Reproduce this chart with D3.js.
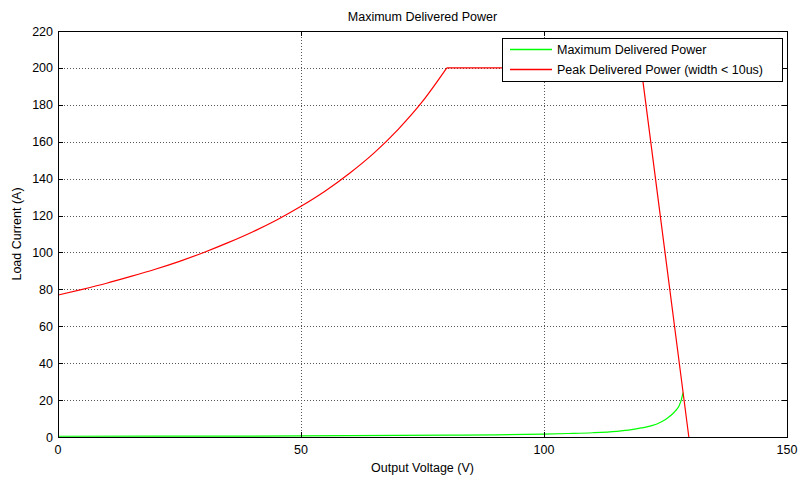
<!DOCTYPE html>
<html>
<head>
<meta charset="utf-8">
<title>Maximum Delivered Power</title>
<script src="https://cdn.jsdelivr.net/npm/d3@7"></script>
<style>
    body { margin: 0; background: #fff; }
    svg { display: block; font-family: Arial, 'Liberation Sans', sans-serif; }
</style>
</head>
<body>
<div id="chart"></div>
<script>
/*global d3: false*/

// Peak delivered power (width < 10us): rising part, flat clamp at 200 A, then steep drop
var peakVoltage = [0, 5, 10, 15, 20, 25, 30, 35, 40, 45, 50, 55, 60, 65, 70, 75, 80, 120, 129.8];
var peakCurrent = [76.9, 80, 83.3, 87, 90.9, 95.2, 100, 105.3, 111.1, 117.6, 125, 133.3, 142.9, 153.8, 166.7, 181.8, 200, 200, 0];

// Maximum delivered power
var maxVoltage = [0, 20, 40, 60, 80, 90, 100, 105, 110, 115, 118, 120, 122, 124, 125, 126, 127, 127.8, 128.3, 128.6];
var maxCurrent = [0.4, 0.45, 0.5, 0.7, 1.0, 1.2, 1.6, 1.9, 2.3, 3.1, 4.0, 4.9, 6.0, 8.0, 9.5, 11.5, 14, 17, 20.5, 24];

var xTicks = [0, 50, 100, 150];
var yTicks = [0, 20, 40, 60, 80, 100, 120, 140, 160, 180, 200, 220];
var seriesNames = ['Maximum Delivered Power', 'Peak Delivered Power (width < 10us)'];
var seriesColors = ['#00ff00', '#ff0000'];

(function() {
    'use strict';
    var width, height, margin, svg, x, y, g, smooth, straight, peak, i, legend, pw, ph, bend;

    width = 799;
    height = 478;
    margin = {left: 58, right: 12, top: 31, bottom: 41};
    pw = width - margin.left - margin.right;
    ph = height - margin.top - margin.bottom;

    svg = d3.select('#chart').append('svg')
        .attr('width', width)
        .attr('height', height);

    x = d3.scaleLinear().domain([0, 150]).range([0, pw]);
    y = d3.scaleLinear().domain([0, 220]).range([ph, 0]);

    g = svg.append('g')
        .attr('transform', 'translate(' + margin.left + ',' + margin.top + ')');

    // Grid lines
    g.selectAll('.vgrid')
        .data(xTicks.slice(1, -1))
        .enter().append('line')
        .attr('x1', function(d) { return x(d) + 0.5; })
        .attr('x2', function(d) { return x(d) + 0.5; })
        .attr('y1', 0)
        .attr('y2', ph)
        .attr('stroke', '#555')
        .attr('stroke-width', 1)
        .attr('stroke-dasharray', '1,2');
    g.selectAll('.hgrid')
        .data(yTicks.slice(1, -1))
        .enter().append('line')
        .attr('x1', 0)
        .attr('x2', pw)
        .attr('y1', function(d) { return Math.round(y(d)) + 0.5; })
        .attr('y2', function(d) { return Math.round(y(d)) + 0.5; })
        .attr('stroke', '#555')
        .attr('stroke-width', 1)
        .attr('stroke-dasharray', '1,2');

    smooth = d3.line()
        .x(function(d) { return x(d[0]); })
        .y(function(d) { return y(d[1]); })
        .curve(d3.curveMonotoneX);
    straight = d3.line()
        .x(function(d) { return x(d[0]); })
        .y(function(d) { return y(d[1]); });

    // Series
    g.append('path')
        .datum(maxVoltage.map(function(v, k) { return [v, maxCurrent[k]]; }))
        .attr('d', smooth)
        .attr('fill', 'none')
        .attr('stroke', seriesColors[0])
        .attr('stroke-width', 1.2);

    peak = peakVoltage.map(function(v, k) { return [v, peakCurrent[k]]; });
    bend = peakCurrent.indexOf(200);
    g.append('path')
        .datum(peak.slice(0, bend + 1))
        .attr('d', smooth)
        .attr('fill', 'none')
        .attr('stroke', seriesColors[1])
        .attr('stroke-width', 1.2);
    g.append('path')
        .datum(peak.slice(bend))
        .attr('d', straight)
        .attr('fill', 'none')
        .attr('stroke', seriesColors[1])
        .attr('stroke-width', 1.2);

    // Axes box
    g.append('rect')
        .attr('x', 0.5)
        .attr('y', 0.5)
        .attr('width', pw)
        .attr('height', ph)
        .attr('fill', 'none')
        .attr('stroke', 'black')
        .attr('stroke-width', 1);

    // Ticks pointing inward, on all four sides
    for (i = 0; i < xTicks.length; i++) {
        g.append('line')
            .attr('x1', x(xTicks[i]) + 0.5).attr('x2', x(xTicks[i]) + 0.5)
            .attr('y1', ph).attr('y2', ph - 5)
            .attr('stroke', 'black');
        g.append('line')
            .attr('x1', x(xTicks[i]) + 0.5).attr('x2', x(xTicks[i]) + 0.5)
            .attr('y1', 0).attr('y2', 5)
            .attr('stroke', 'black');
        g.append('text')
            .attr('x', x(xTicks[i]))
            .attr('y', ph + 17)
            .attr('text-anchor', 'middle')
            .attr('font-size', '12.5px')
            .attr('fill', 'black')
            .text(xTicks[i]);
    }
    for (i = 0; i < yTicks.length; i++) {
        g.append('line')
            .attr('x1', 0).attr('x2', 5)
            .attr('y1', Math.round(y(yTicks[i])) + 0.5).attr('y2', Math.round(y(yTicks[i])) + 0.5)
            .attr('stroke', 'black');
        g.append('line')
            .attr('x1', pw).attr('x2', pw - 5)
            .attr('y1', Math.round(y(yTicks[i])) + 0.5).attr('y2', Math.round(y(yTicks[i])) + 0.5)
            .attr('stroke', 'black');
        g.append('text')
            .attr('x', -5)
            .attr('y', y(yTicks[i]) + 4.5)
            .attr('text-anchor', 'end')
            .attr('font-size', '12.5px')
            .attr('fill', 'black')
            .text(yTicks[i]);
    }

    // Title and axis labels
    svg.append('text')
        .attr('x', margin.left + pw / 2)
        .attr('y', 21)
        .attr('text-anchor', 'middle')
        .attr('font-size', '12.5px')
        .text('Maximum Delivered Power');
    svg.append('text')
        .attr('x', margin.left + pw / 2)
        .attr('y', height - 6)
        .attr('text-anchor', 'middle')
        .attr('font-size', '12.5px')
        .text('Output Voltage (V)');
    svg.append('text')
        .attr('transform', 'translate(21,' + (margin.top + ph / 2) + ') rotate(-90)')
        .attr('text-anchor', 'middle')
        .attr('font-size', '12.5px')
        .text('Load Current (A)');

    // Legend
    legend = svg.append('g').attr('transform', 'translate(502,38)');
    legend.append('rect')
        .attr('x', 0.5).attr('y', 0.5)
        .attr('width', 280).attr('height', 43)
        .attr('fill', 'white')
        .attr('stroke', 'black')
        .attr('stroke-width', 1);
    for (i = 0; i < seriesNames.length; i++) {
        legend.append('line')
            .attr('x1', 8).attr('x2', 50)
            .attr('y1', 11.5 + i * 20).attr('y2', 11.5 + i * 20)
            .attr('stroke', seriesColors[i])
            .attr('stroke-width', 1.5);
        legend.append('text')
            .attr('x', 55)
            .attr('y', 16 + i * 20)
            .attr('font-size', '12.5px')
            .text(seriesNames[i]);
    }
}());
</script>
</body>
</html>
